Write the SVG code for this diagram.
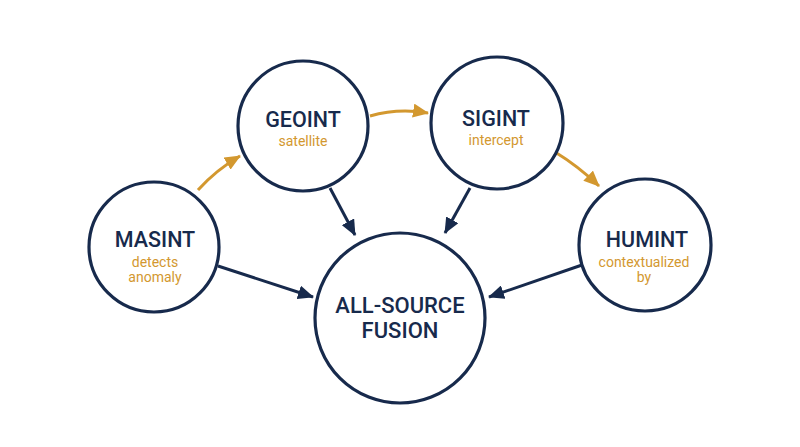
<svg xmlns="http://www.w3.org/2000/svg" width="800" height="447" viewBox="0 0 800 447">
<style>
.node{fill:#ffffff;stroke:#172a4c;stroke-width:3.2}
.t{font-family:Roboto,"Liberation Sans",sans-serif;font-weight:500;fill:#172a4c;text-anchor:middle}
.s{font-family:Roboto,"Liberation Sans",sans-serif;font-size:14px;fill:#d3982f;text-anchor:middle}
.nav{fill:none;stroke:#172a4c;stroke-width:3}
.gold{fill:none;stroke:#d3982f;stroke-width:3}
</style>
<defs>
<marker id="an" markerUnits="userSpaceOnUse" markerWidth="16" markerHeight="14" refX="15" refY="7" orient="auto"><path d="M0,0 L16,7 L0,14 Z" fill="#172a4c"/></marker>
<marker id="ag" markerUnits="userSpaceOnUse" markerWidth="16" markerHeight="14" refX="15" refY="7" orient="auto"><path d="M0,0 L16,7 L0,14 Z" fill="#d3982f"/></marker>
</defs>
<rect width="800" height="447" fill="#ffffff"/>
<g id="connectors">
<path class="gold" d="M198,190 Q216,170 240,156" marker-end="url(#ag)"/>
<path class="gold" d="M370,116 Q398,108 428,113" marker-end="url(#ag)"/>
<path class="gold" d="M555,152 Q578,166 599,186" marker-end="url(#ag)"/>
<path class="nav" d="M330,188 L355,235" marker-end="url(#an)"/>
<path class="nav" d="M470,188 L445,233" marker-end="url(#an)"/>
<path class="nav" d="M218,266 L313,297" marker-end="url(#an)"/>
<path class="nav" d="M582,265 L489,297" marker-end="url(#an)"/>
</g>
<g id="masint">
<circle class="node" cx="154" cy="247" r="65"/>
<text class="t" x="155" y="247" font-size="21.5">MASINT</text>
<text class="s" x="155" y="267">detects</text>
<text class="s" x="155" y="282">anomaly</text>
</g>
<g id="geoint">
<circle class="node" cx="303" cy="126" r="65"/>
<text class="t" x="303" y="127" font-size="21.5">GEOINT</text>
<text class="s" x="303" y="146">satellite</text>
</g>
<g id="sigint">
<circle class="node" cx="497" cy="123" r="66"/>
<text class="t" x="496" y="126" font-size="21.5">SIGINT</text>
<text class="s" x="496" y="145">intercept</text>
</g>
<g id="humint">
<circle class="node" cx="645" cy="245" r="66"/>
<text class="t" x="647" y="247" font-size="21.5">HUMINT</text>
<text class="s" x="644" y="267">contextualized</text>
<text class="s" x="644" y="282">by</text>
</g>
<g id="fusion">
<circle class="node" cx="400" cy="318" r="85"/>
<text class="t" x="400" y="313" font-size="22">ALL-SOURCE</text>
<text class="t" x="400" y="338" font-size="22">FUSION</text>
</g>
</svg>
